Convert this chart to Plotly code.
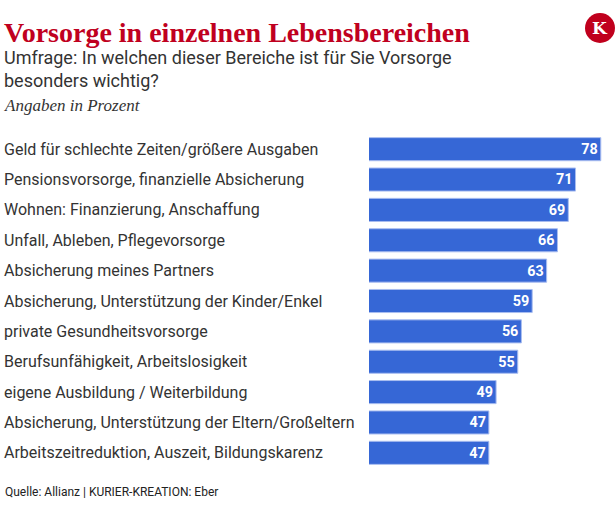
import plotly.graph_objects as go

categories = [
    "Geld für schlechte Zeiten/größere Ausgaben",
    "Pensionsvorsorge, finanzielle Absicherung",
    "Wohnen: Finanzierung, Anschaffung",
    "Unfall, Ableben, Pflegevorsorge",
    "Absicherung meines Partners",
    "Absicherung, Unterstützung der Kinder/Enkel",
    "private Gesundheitsvorsorge",
    "Berufsunfähigkeit, Arbeitslosigkeit",
    "eigene Ausbildung / Weiterbildung",
    "Absicherung, Unterstützung der Eltern/Großeltern",
    "Arbeitszeitreduktion, Auszeit, Bildungskarenz",
]
values = [78, 71, 69, 66, 63, 59, 56, 55, 49, 47, 47]

W, H = 616, 522
T, B = 134, 54
BAR = "#3667d6"


def py(pix):
    # pixel row from top of figure -> paper y
    return (H - B - pix) / (H - T - B)


def px(pix):
    return pix / W


fig = go.Figure(go.Bar(
    x=values, y=categories, orientation="h",
    marker=dict(color=BAR, line=dict(color="#a9bdf0", width=1)),
    text=[str(v) for v in values], textposition="inside", insidetextanchor="end",
    textangle=0,
    textfont=dict(family="Roboto", size=16, color="white", weight="bold"),
    width=0.76, hoverinfo="skip",
))

for c in categories:
    fig.add_annotation(x=px(2), xref="paper", y=c, yref="y", text=c, showarrow=False,
                       xanchor="left", yanchor="middle",
                       font=dict(family="Roboto", size=16, color="#333333"))

fig.add_annotation(x=px(2), y=py(33), xref="paper", yref="paper", text="<b>Vorsorge in einzelnen Lebensbereichen</b>",
                   showarrow=False, xanchor="left", yanchor="middle",
                   font=dict(family="Liberation Serif", size=28, color="#c00020"))
fig.add_annotation(x=px(2), y=py(69), xref="paper", yref="paper",
                   text="Umfrage: In welchen dieser Bereiche ist für Sie Vorsorge<br>besonders wichtig?",
                   showarrow=False, xanchor="left", yanchor="middle", align="left",
                   font=dict(family="Roboto", size=18, color="#333333"))
fig.add_annotation(x=px(2), y=py(105), xref="paper", yref="paper", text="<i>Angaben in Prozent</i>",
                   showarrow=False, xanchor="left", yanchor="middle",
                   font=dict(family="Liberation Serif", size=17, color="#333333"))
fig.add_annotation(x=px(3), y=py(492), xref="paper", yref="paper", text="Quelle: Allianz | KURIER-KREATION: Eber",
                   showarrow=False, xanchor="left", yanchor="middle",
                   font=dict(family="Roboto", size=12, color="#222222"))

# logo
fig.add_shape(type="circle", xref="paper", yref="paper",
              x0=px(585), x1=px(615), y0=py(43), y1=py(13),
              fillcolor="#c0001d", line=dict(width=0))
fig.add_annotation(x=px(600), y=py(28), xref="paper", yref="paper", text="<b>K</b>",
                   showarrow=False, xanchor="center", yanchor="middle",
                   font=dict(family="DejaVu Serif", size=17, color="white"))

fig.update_layout(
    width=W, height=H, paper_bgcolor="white", plot_bgcolor="white",
    margin=dict(l=0, r=0, t=T, b=B),
    showlegend=False,
    xaxis=dict(range=[13.8, 79], domain=[369 / W, 604.4 / W], visible=False),
    yaxis=dict(autorange="reversed", showticklabels=False, showgrid=False, zeroline=False),
)
fig.write_html("out.html", config={"displayModeBar": False},
               post_script="document.body.style.margin='0';document.body.style.overflow='hidden';")
